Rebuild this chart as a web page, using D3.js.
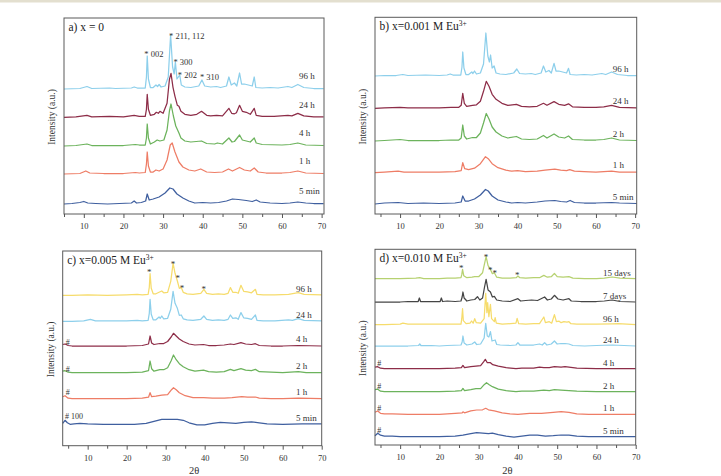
<!DOCTYPE html>
<html><head><meta charset="utf-8">
<script src="https://cdn.jsdelivr.net/npm/d3@7"></script>
<style>body{margin:0;background:#fff}svg{display:block}text{font-family:"Liberation Serif","Times New Roman",serif}</style>
</head><body>
<script>
// ---------- shared ticks ----------
const xTicksMajor = [10, 20, 30, 40, 50, 60, 70];
const xTicksMinor = [5, 15, 25, 35, 45, 55, 65];

// ---------- panel a) x = 0 ----------
const seriesA = ["5 min", "1 h", "4 h", "24 h", "96 h"];
const offsetsA = [10, 40, 68, 96.7, 125];
const a_5min = [[5,0],[7,0.5],[9,1.5],[10,2.5],[11,1],[13,0.5],[16,0],[19,0.5],[22,1],[22.7,3],[23.3,1],[24.5,1.5],[25.6,3],[26,10],[26.5,4],[27.5,5],[29,7],[30.5,11],[31.7,16],[32.5,15],[33.5,10],[35,6],[36.5,3],[38,1],[40,1.5],[42,1],[44,1.5],[46,3],[47.5,5],[49,4.5],[51,3.5],[52.5,2.5],[53.5,4],[54.5,2],[57,1],[60,0.5],[62,1],[64,2],[66,1],[68,0.5],[70.5,0.5]];
const a_1h = [[5,0],[9,0.5],[10.5,3],[11.5,1],[15,0.5],[20,0.5],[23,1.5],[24,1],[25.5,1.5],[25.8,10],[26,22],[26.3,8],[26.8,2],[27.5,2],[28.2,4],[29,3],[30,5],[31,14],[31.8,29],[32.3,31],[33,22],[34,12],[35,7],[36.5,4],[38,3],[39.5,5],[41,2],[43,1.5],[45,2],[46.5,5],[47.5,3],[49.3,6.5],[50.5,4],[52,3],[53,6],[54,2],[56,1],[60,1],[62,1.5],[64,3],[66,1],[70.5,0.5]];
const a_4h = [[5,0],[8,0.5],[10.8,2],[12,0.5],[20,0.5],[23,1.5],[24,1],[25.5,1],[25.8,8],[26,22],[26.3,8],[26.8,2],[27.8,4],[28.5,6],[29.2,5],[30.2,6],[31,16],[31.6,35],[32,42],[32.6,30],[33.2,20],[34,13],[34.5,8],[35.5,5],[37,4],[39.7,5],[41,2.5],[43,2],[43.7,3],[45,2],[46.6,8],[47.4,4],[48,4.5],[49.3,11],[50,6],[51,5],[52,4],[53,8],[53.5,3],[55,1.5],[60,1],[62,1.5],[64,3],[66,1],[70.5,0.5]];
const a_24h = [[5,0],[8,0.5],[10.8,2],[12,0.5],[16.5,1],[20,0.5],[22.7,2],[24,1],[25.5,1],[25.8,8],[26,23],[26.3,8],[26.8,2],[27.8,3],[28.3,5],[28.8,4],[29.2,6],[30,4],[31,14],[31.6,38],[32,44],[32.5,30],[33,21],[33.6,12],[34,11],[34.5,6],[35.5,3],[37,2],[38.5,3],[39.7,6],[41,2],[42,1.5],[43.5,2],[45,1.5],[46.6,9],[47.3,4],[48,3.5],[48.5,4.5],[49.3,12],[50,6],[51,5],[52,3],[53,9],[53.5,2],[55,1],[58,1],[61.5,2],[62.5,1.5],[64,4],[65.5,1.5],[68,0.5],[70.5,0.5]];
const a_96h = [[5,0],[9,0.5],[10.8,2.5],[12,0.5],[16.5,1],[18,0.5],[22,1],[22.7,2],[23.5,1],[25.5,1],[25.8,12],[26,33],[26.3,10],[26.8,1.5],[27.5,1.5],[28.2,4],[28.6,2.5],[29,4.5],[29.5,2],[30.5,3],[31.3,12],[31.9,54],[32.4,22],[32.8,15],[33.1,27],[33.5,10],[34.2,14],[34.6,4],[35.5,2],[37,1.5],[39,3],[39.8,9],[40.5,3],[42,2],[43.5,2.5],[44.5,1.5],[46,3],[46.6,12],[47.2,4],[48,6],[48.6,3],[49.3,16],[49.8,5],[50.5,5],[51.5,4],[52.5,3],[53,12],[53.4,1.5],[55,1],[57,1.5],[59,1],[61.5,2.5],[62.5,1.5],[64,4.5],[65.5,1.5],[68,0.5],[70.5,0.5]];
const notesA = [[25.26,160,"* 002"],[31.5,178.3,"* 211, 112"],[32.6,152.3,"* 300"],[33.7,139,"* 202"],[39.3,137,"* 310"]];

// ---------- panel b) x = 0.001 M ----------
const seriesB = ["5 min", "1 h", "2 h", "24 h", "96 h"];
const offsetsB = [10, 41.3, 73, 105.7, 138];
const b_5min = [[3.6,0],[6,1],[9.5,1.5],[12,0.5],[16,1],[20,0.5],[24,1],[25.6,2],[26,8],[26.6,3],[27.5,3],[29,5],[30.5,9],[31.8,14.5],[32.5,13],[33.5,8],[35,4],[37,2],[38.5,1],[40,1.5],[42,1],[45,2],[47,3],[49.5,3.5],[51,2.5],[52.5,2],[53.4,3.5],[54.5,1.5],[57,1],[60,1],[64,1.5],[66,1],[70.4,0.5]];
const b_1h = [[3.6,0],[6,0.5],[9.5,1.5],[11,0.5],[16,0.5],[20,0.5],[24,1],[25.6,2],[26,10],[26.5,4],[27.5,3],[29,4.5],[30.5,9],[31.8,16],[32.5,14],[33.5,9],[35,5],[37,2.5],[38.5,1.5],[40,2],[42,1],[45,1.5],[47,2.5],[49.5,3.5],[51,2.5],[52.5,2],[53.3,3],[54.5,1.5],[57,1],[60,0.5],[64,1.5],[66,0.5],[70.4,0.5]];
const b_2h = [[3.6,0],[6,0.5],[10,1.5],[12,0.5],[16,0.5],[20,0.5],[23,1],[25,1],[25.6,3],[26,16],[26.4,5],[27,2],[28.5,3.5],[29.5,3.5],[30.5,8],[31.3,18],[32,27.5],[32.7,22],[33.5,14],[34.5,9],[36,5],[37.5,3],[39.7,4.5],[41,2],[43,1.5],[45,2],[46.6,5.5],[47.5,3],[49.3,7],[50.5,4],[52,3],[53,5],[54,1.5],[57,1],[60,1],[62,1.5],[64,3],[66,1],[70.4,0.5]];
const b_24h = [[3.6,0],[6,0.5],[10,1],[12,0.5],[16,0.5],[20,0.5],[23,1],[25,1],[25.6,3],[26,15],[26.4,5],[27,2],[28.5,3],[29.5,3.5],[30.5,7],[31.3,17],[32,27],[32.7,22],[33.5,14],[34.5,9],[36,5],[37.5,3],[39.7,4],[41,2],[43,1.5],[45,2],[46.6,5],[47.5,3],[49.3,6.7],[50.5,4],[52,3],[53,4.5],[54,1.5],[57,1],[60,1],[62,1.5],[64,3],[66,1],[70.4,0.5]];
const b_96h = [[3.6,0],[6,0.5],[9,0.5],[10.7,1.5],[12,0.5],[16.5,1],[20,0.5],[22,1],[22.8,2],[23.5,1],[25.5,1],[25.8,9],[26,24],[26.3,8],[26.8,1.5],[27.5,1.5],[28.3,4],[28.6,2.5],[29,5],[29.5,2],[30.5,3],[31.3,12],[31.9,43],[32.4,20],[32.8,14],[33.1,21],[33.5,8],[34,10],[34.5,3],[35.5,2],[37,1.5],[39,3],[39.8,7],[40.5,2.5],[42,2],[43.5,2.5],[44.5,1.5],[46,3],[46.6,10],[47.2,4],[48,5.5],[48.6,3],[49.3,12.7],[49.8,5],[50.5,5],[51.5,4],[52.5,3],[53,7.7],[53.4,1.5],[55,1],[57,1.5],[59,1],[61.5,2.5],[62.5,1.5],[64,4],[65.5,1.5],[68,0.5],[70.4,0.5]];

// ---------- panel c) x = 0.005 M ----------
const seriesC = ["5 min", "1 h", "2 h", "4 h", "24 h", "96 h"];
const offsetsC = [21.4, 47, 73, 99.7, 124.4, 150.4];
const c_5min = [[3.6,1],[4.2,4],[4.8,1.5],[5.5,0],[6.5,0.5],[8,1],[10,0.5],[14,0],[18,0],[22,0],[25,1],[27,3],[29,5],[31,5],[33,5],[34.5,4],[36,1.5],[38,-0.5],[40,-0.5],[42,1],[44,2],[46,1.5],[48,1],[50,2],[52,2.5],[54,1.5],[56,0.5],[60,0],[65,0.5],[70,0.5]];
const c_1h = [[3.6,2],[4.2,3],[5,0.5],[6,0],[10,0],[15,0],[20,0],[24,0.5],[25.6,1.5],[26,6],[26.4,2],[27.5,2.5],[29,3.5],[30.5,4],[31.5,9],[32,11],[32.7,9],[33.5,6],[35,3],[37,1],[39.7,1],[42,0.5],[45,0.5],[47,1],[49.5,2],[51,1.5],[53,1.7],[54,0.5],[57,0],[60,0],[64,0.5],[70,0]];
const c_2h = [[3.6,1.5],[4.2,2],[5,0.5],[6,0],[10,0],[15,0],[20,0],[24,0.5],[25.6,2],[26,11.7],[26.4,4],[27,1.5],[28.5,3],[29.5,3],[30.5,5],[31.4,12],[32,17.7],[32.7,13],[33.5,9],[34.5,6],[36,3],[37.5,1.5],[39.7,2.5],[41,1],[43,0.5],[45,1],[46.6,3.3],[47.5,2],[49.3,4],[50.5,2.5],[52,2],[53,3.3],[54,1],[57,0.5],[60,0],[64,1],[66,0],[70,0]];
const c_4h = [[3.6,1.5],[4.2,2],[5,0.5],[6,0],[10,0],[15,0],[20,0],[24,0.5],[25.6,2],[26,10],[26.4,3],[27,1.5],[28.5,2.5],[29.5,2.5],[30.5,4.5],[31.4,9],[32,12.7],[32.7,10],[33.5,7],[34.5,4.5],[36,2],[37.5,1],[39.7,1.5],[41,0.5],[43,0.5],[45,1],[46.6,2],[47.5,1.5],[49.3,3.3],[50.5,2],[52,1.5],[53,2.3],[54,0.5],[57,0],[60,0],[64,0.5],[70,0]];
const c_24h = [[3.6,0],[6,0],[9,0.5],[10.7,2],[12,0.5],[16,0.5],[20,0.5],[22.7,1],[24,0.5],[25.5,1],[25.8,8],[26,22],[26.3,7],[26.8,1.5],[27.5,1.5],[28.3,4.3],[28.6,3],[29,5.3],[29.5,2.5],[30.5,3],[31.3,12],[31.9,30],[32.4,18],[33,13],[33.5,6],[34,6.3],[34.5,2.5],[35.5,1.5],[37,1],[39,2],[39.8,5.3],[40.5,2],[42,1],[43.5,1.5],[45,1],[46,2],[46.6,6.3],[47.2,3],[48,3.5],[48.6,2],[49.3,8.7],[50,3.5],[51,3],[52,2],[53,6.3],[53.4,1],[55,0.5],[58,0.5],[61.5,1.5],[62.5,1],[64,2.7],[65.5,1],[70,0.5]];
const c_96h = [[3.6,0],[6,0],[10,0.5],[15,0],[20,0.5],[22.7,1],[24,0.5],[25.5,1],[25.8,8],[26,21.7],[26.3,7],[26.8,1.5],[27.5,1.5],[28.3,3],[29,4.3],[29.5,2.5],[30.5,3],[31.3,14],[31.9,32],[32.4,22],[33,14.3],[33.5,7],[34,7.7],[34.5,3],[35.5,1.5],[37,1],[39,2],[39.8,6],[40.5,2],[42,1],[43.5,1.5],[45,1],[46,2],[46.6,7.7],[47.2,3],[48,3],[48.6,2],[49.3,10],[50,4],[51,3.5],[52,2.5],[53,6],[53.4,1],[55,0.5],[58,0.5],[61.5,1],[64,2.7],[65.5,1],[70,0.5]];
const notesC = [[25.8,175.7,"*"],[31.88,184,"*"],[33.08,169.7,"*"],[34.18,159.7,"*"],[39.75,158.7,"*"]];
const hashC = [[4.2,29.7,"# 100"],[4.37,53.7,"#"],[4.37,77,"#"],[4.37,103.7,"#"]];

// ---------- panel d) x = 0.010 M ----------
const seriesD = ["5 min", "1 h", "2 h", "4 h", "24 h", "96 h", "7 days", "15 days"];
const offsetsD = [8.3, 30.7, 53.3, 76.3, 99, 120.3, 143, 166.3];
const d_5min = [[3.6,1],[4.3,3.5],[5,1.5],[6,0.5],[8,0.5],[10,0],[15,0],[20,0],[24,0.5],[26,1.5],[28,3],[29.5,4],[31,3.5],[32.5,3],[33.5,3.5],[35,2],[37,0.5],[39,-0.5],[41,0.5],[43,1.5],[45,1.5],[47,0.5],[49,1],[51,1.7],[53,1.5],[55,0.5],[58,0],[62,0],[66,0],[70,0]];
const d_1h = [[3.6,2],[4.3,3.3],[5,1],[6,0.5],[8,0.5],[12,0],[16,0],[20,0],[24,1],[25.8,1.5],[26,2.5],[26.4,1.5],[28,3.5],[29.5,4.3],[31,4.5],[31.8,6],[32.5,4.5],[34,3.5],[36,1.5],[38,0.5],[40,0],[43,1],[46,1],[49,2],[51,2.7],[53,2],[55,0.5],[58,0],[62,0],[66,0],[70,0]];
const d_2h = [[3.6,2],[4.3,2.5],[5,0.5],[6,0],[10,0],[15,0],[20,0],[24,0.5],[25.6,1],[26,3.3],[26.4,1],[28,2],[29.3,3],[30.5,3],[31.4,7],[32,9],[32.7,7],[33.5,5],[35,2.5],[37,1],[39.5,0],[41,0.5],[44,0.5],[46.6,1.5],[48,1],[49.3,2],[51,1.5],[53,1],[55,0.5],[60,0],[65,0],[70,0]];
const d_4h = [[3.6,1.5],[4.3,2],[5,0.5],[6,0],[10,0],[15,0],[20,0],[24,0.5],[25.6,1],[26,3.3],[26.4,1],[28,2],[29.3,2.5],[30.5,3],[31.3,7],[31.7,9.4],[32.2,6],[33,6],[33.6,4],[35,2.5],[37,1],[39.5,0],[41,0.5],[44,0.5],[45.5,1.5],[46.6,1],[48,1],[49.3,2],[51,1.5],[52,2],[53,1.5],[55,0.5],[60,0],[65,0],[70,0]];
const d_24h = [[3.6,0],[6,0],[10,0],[12,0],[14.7,0.5],[15,2],[15.3,0.5],[18,0.5],[20,0],[22,0.5],[25.5,1],[25.8,4],[26,10],[26.3,3],[27,1],[28.3,2],[29,4],[29.5,1.5],[30.5,2],[31.4,8],[31.8,22.7],[32.2,10],[32.6,9],[33,14.3],[33.4,5],[34.2,6],[34.6,1.5],[35.5,1],[38,0.5],[39.5,1],[40,3.3],[40.5,1],[42,1],[44,1],[45.5,2],[46.2,1],[46.8,3.3],[47.4,1],[48.5,2],[49.3,5],[50,2],[51,2.5],[52,2.5],[53,2],[54,0.5],[57,0],[60,0.5],[64,1],[70,0]];
const d_96h = [[3.6,0],[6,0],[10,0.5],[10.7,1.5],[12,0.5],[15,0.5],[17,0.5],[20,0.5],[22.7,0.5],[25.5,0.5],[25.7,6],[25.9,16],[26.1,4],[26.8,1],[27.8,1.5],[28.2,3.7],[28.6,1.5],[29,6],[29.4,2],[30.5,1.5],[31.4,6],[31.8,31.4],[32.1,12],[32.3,22],[32.6,8],[33,20.4],[33.3,6],[34,3],[34.2,7],[34.5,1.5],[36,0.5],[39.5,1.5],[39.8,6.3],[40.2,1],[42,0.5],[44,1],[45.5,1],[46.6,7.7],[47,2],[48,3],[48.6,1.5],[49.3,10],[49.8,3],[50.5,3.5],[51,2],[51.7,3],[52.5,2.5],[53,3],[53.5,1],[55,0.5],[60,0.5],[64,0.8],[65.5,1],[70,0]];
const d_7d = [[3.6,0],[6,0],[10,0],[12,0.5],[14.6,0.5],[14.9,4],[15.2,0.5],[17,0.5],[20.2,0.5],[20.5,4],[20.8,0.5],[22,1],[24,0.5],[25.5,1],[25.8,5],[26,10],[26.3,4],[27,1],[28,2],[29,2.5],[29.7,5.3],[30.3,2],[31,4],[31.5,15],[31.9,22.7],[32.4,12],[33,10],[33.5,5],[34,5.7],[34.6,2],[36,1],[38,0.5],[40,3.3],[40.7,1],[42,1.5],[43.5,2],[45,1.5],[46.8,5],[47.5,2],[48.5,3],[49.3,6.7],[50.2,3],[51.5,2],[53,3.3],[53.6,1],[56,0.5],[60,0.5],[62,1],[64,2],[66,0.5],[70,0]];
const d_15d = [[3.6,0],[6,0],[10,0],[14,0.5],[15,1],[16,0],[20,0],[22,0.5],[24,0.5],[25.5,1],[25.7,4],[25.9,9.4],[26.2,3],[27,1],[28.3,1.5],[29,2],[30,2],[31,6],[31.5,15],[31.9,22],[32.4,13],[33,9.3],[33.5,5],[34,6],[34.6,1.5],[36,0.5],[38,0.5],[39.6,1],[40,2.7],[40.5,1],[42,0.5],[44,1],[45.5,1],[46.6,3.3],[47.5,1.5],[48.5,2],[49.3,5.3],[50,2],[51.5,1.5],[53,2],[54,0.5],[57,0],[60,0],[62,0.5],[64,1.7],[66,0.5],[70,0]];
const notesD = [[25.58,179,"*"],[31.87,190,"*"],[32.97,177.3,"*"],[34.09,173.7,"*"],[39.84,172.3,"*"]];
const hashD = [[4.19,15,"#"],[4.19,37.3,"#"],[4.19,59,"#"],[4.19,82.3,"#"]];

// ---------- styles / layout ----------
const C = {blue:"#3f5f9f", salmon:"#ee7d66", green:"#6cb35c", maroon:"#8d2d48", sky:"#8dcfeb", yellow:"#f6dc6c", grey:"#454545", lime:"#b6d170"};
const panels = [
  {title:["a) x = 0",""], left:64, top:18, right:324, bottom:214, xDomain:[5,70.6],
   series:seriesA, offsets:offsetsA, traces:[a_5min,a_1h,a_4h,a_24h,a_96h],
   colors:[C.blue,C.salmon,C.green,C.maroon,C.sky], labelX:64.3, lift:13, notes:notesA, hashes:[], xlabel:false},
  {title:["b) x=0.001 M Eu","3+"], left:375, top:17.3, right:636.7, bottom:214, xDomain:[3.6,70.4],
   series:seriesB, offsets:offsetsB, traces:[b_5min,b_1h,b_2h,b_24h,b_96h],
   colors:[C.blue,C.salmon,C.green,C.maroon,C.sky], labelX:64.3, lift:7.5, notes:[], hashes:[], xlabel:false},
  {title:["c) x=0.005 M Eu","3+"], left:62.7, top:251, right:321.7, bottom:445.7, xDomain:[3.6,70],
   series:seriesC, offsets:offsetsC, traces:[c_5min,c_1h,c_2h,c_4h,c_24h,c_96h],
   colors:[C.blue,C.salmon,C.green,C.maroon,C.sky,C.yellow], labelX:63.4, lift:6.8, notes:notesC, hashes:hashC, xlabel:true},
  {title:["d) x=0.010 M Eu","3+"], left:375, top:249.3, right:635.7, bottom:445, xDomain:[3.6,70],
   series:seriesD, offsets:offsetsD, traces:[d_5min,d_1h,d_2h,d_4h,d_24h,d_96h,d_7d,d_15d],
   colors:[C.blue,C.salmon,C.green,C.maroon,C.sky,C.yellow,C.grey,C.lime], labelX:61.7, lift:6.2, notes:notesD, hashes:hashD, xlabel:true}
];

const svg = d3.select("body").append("svg").attr("width",721).attr("height",476);
svg.append("rect").attr("width",721).attr("height",476).attr("fill","#fff");
svg.append("rect").attr("width",721).attr("height",2.5).attr("fill","#e3dfcf");

panels.forEach(p => {
  const g = svg.append("g");
  const x = d3.scaleLinear().domain(p.xDomain).range([p.left, p.right]);
  const y = d3.scaleLinear().domain([0, p.bottom - p.top]).range([p.bottom, p.top]);

  // traces: top first, lower ones drawn over
  for (let i = p.traces.length - 1; i >= 0; i--) {
    const off = p.offsets[i];
    const line = d3.line().x(d => x(d[0])).y(d => y(off + d[1]));
    g.append("path").datum(p.traces[i]).attr("d", line)
      .attr("fill","none").attr("stroke", p.colors[i]).attr("stroke-width",1.25)
      .attr("stroke-linejoin","round");
    g.append("text").attr("x", x(p.labelX)).attr("y", y(off) - p.lift + 3.2)
      .attr("font-size", 9).attr("fill","#333").text(p.series[i]);
  }

  // frame
  g.append("rect").attr("x",p.left).attr("y",p.top).attr("width",p.right-p.left).attr("height",p.bottom-p.top)
    .attr("fill","none").attr("stroke","#5a5a5a").attr("stroke-width",1);

  // axes
  const ax = g.append("g").attr("transform",`translate(0,${p.bottom})`)
    .call(d3.axisBottom(x).tickValues(xTicksMajor).tickSize(4).tickPadding(5).tickFormat(d3.format("d")));
  ax.select(".domain").remove();
  ax.selectAll("line").attr("stroke","#555");
  ax.selectAll("text").attr("font-size",8.5).attr("fill","#333").attr("font-family","Liberation Serif, serif");
  const axm = g.append("g").attr("transform",`translate(0,${p.bottom})`)
    .call(d3.axisBottom(x).tickValues(xTicksMinor).tickSize(3).tickFormat(""));
  axm.select(".domain").remove();
  axm.selectAll("line").attr("stroke","#555");

  // y label
  const yc = (p.top + p.bottom) / 2 + 1;
  g.append("text").attr("transform",`translate(${p.left - 9},${yc}) rotate(-90)`)
    .attr("text-anchor","middle").attr("font-size",9.5).attr("fill","#333").text("Intensity (a.u.)");

  // title
  const t = g.append("text").attr("x", p.left + 4.5).attr("y", p.top + 13)
    .attr("font-size",11.5).attr("fill","#222");
  t.append("tspan").text(p.title[0]);
  if (p.title[1]) t.append("tspan").attr("font-size",7.5).attr("dy",-4.5).text(p.title[1]);

  // peak annotations
  p.notes.forEach(n => {
    const star = n[2] === "*";
    g.append("text").attr("x", x(n[0])).attr("y", y(n[1]) + (star ? 5 : 3.2))
      .attr("text-anchor", star ? "middle" : "start")
      .attr("font-size", star ? 9 : 8.5).attr("fill","#333").text(n[2]);
  });
  p.hashes.forEach(n => {
    g.append("text").attr("x", x(n[0])).attr("y", y(n[1]) + 2.8)
      .attr("text-anchor","start").attr("font-size",8).attr("fill","#333").text(n[2]);
  });

  if (p.xlabel) {
    g.append("text").attr("x",(p.left+p.right)/2 + 2).attr("y",473.5)
      .attr("text-anchor","middle").attr("font-size",10.5).attr("fill","#333").text("2θ");
  }
});
</script>
</body></html>
